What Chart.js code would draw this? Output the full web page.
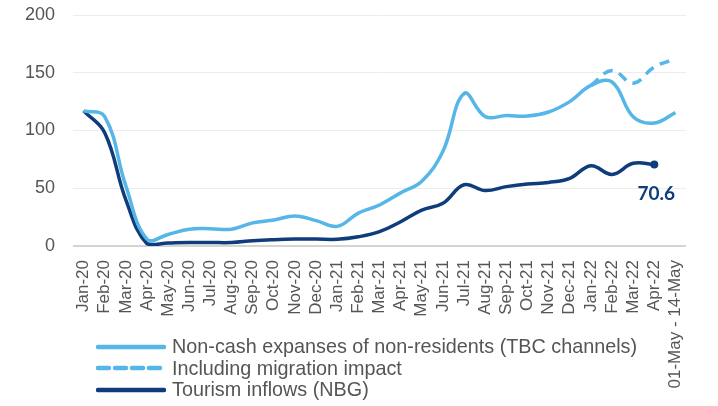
<!DOCTYPE html>
<html>
<head>
<meta charset="utf-8">
<script src="https://cdn.jsdelivr.net/npm/chart.js@4.4.1/dist/chart.umd.min.js"></script>
<style>
    body { margin: 0; background: #fff; }
    #wrap { position: relative; width: 718px; height: 406px; }
    #legend {
        position: absolute; left: 96px; top: 336px;
        font-family: "Liberation Sans", Arial, sans-serif; font-size: 19.8px; color: #555;
    }
    .legend-row { display: flex; align-items: center; height: 21.5px; white-space: nowrap; }
    .legend-row svg { margin-right: 6px; }
</style>
</head>
<body>
<div id="wrap">
    <canvas id="chart" width="718" height="406"></canvas>
    <div id="legend"></div>
</div>
<script>
const categories = ['Jan-20', 'Feb-20', 'Mar-20', 'Apr-20', 'May-20', 'Jun-20', 'Jul-20', 'Aug-20', 'Sep-20', 'Oct-20', 'Nov-20', 'Dec-20',
    'Jan-21', 'Feb-21', 'Mar-21', 'Apr-21', 'May-21', 'Jun-21', 'Jul-21', 'Aug-21', 'Sep-21', 'Oct-21', 'Nov-21', 'Dec-21',
    'Jan-22', 'Feb-22', 'Mar-22', 'Apr-22', '01-May - 14-May'];

const tbcValues = [117, 112, 52, 6, 10, 14.5, 15, 14.5, 20, 22.5, 26, 22,
    17, 28.5, 35.5, 46, 56, 82, 132, 112, 113, 112.5, 116, 125,
    139, 142, 112, 106.5, 115.5];

const migrationValues = [null, null, null, null, null, null, null, null, null, null, null, null,
    null, null, null, null, null, null, null, null, null, null, null, null,
    139, 152, 141, 155, 162];

const nbgValues = [117, 98, 40, 2, 2.5, 3, 3, 3, 4.6, 5.5, 6, 6,
    5.8, 8, 12.4, 21, 31, 37, 53, 48, 51.4, 53.7, 55, 58.6,
    69.5, 62, 71.6, 70.6, null];

const yTicks = [0, 50, 100, 150, 200];

const lightBlue = '#55b6e7';
const darkBlue = '#0f3d7b';
const lastNbg = 27;

const endLabel = {
    id: 'endLabel',
    afterDatasetsDraw(chart) {
        const pt = chart.getDatasetMeta(2).data[lastNbg];
        const ctx = chart.ctx;
        ctx.save();
        ctx.font = 'bold 19px Lato, "Liberation Sans", sans-serif';
        ctx.fillStyle = darkBlue;
        ctx.textAlign = 'center';
        ctx.textBaseline = 'middle';
        ctx.fillText(nbgValues[lastNbg].toFixed(1), pt.x + 2, pt.y + 29);
        ctx.restore();
    }
};

const chart = new Chart(document.getElementById('chart'), {
    type: 'line',
    data: {
        labels: categories,
        datasets: [
            {
                label: 'Non-cash expanses of non-residents (TBC channels)',
                data: tbcValues,
                borderColor: lightBlue,
                borderWidth: 3.5,
                pointRadius: 0,
                tension: 0.4
            },
            {
                label: 'Including migration impact',
                data: migrationValues,
                borderColor: lightBlue,
                borderWidth: 3.5,
                borderDash: [10, 7],
                pointRadius: 0,
                tension: 0.4
            },
            {
                label: 'Tourism inflows (NBG)',
                data: nbgValues,
                borderColor: darkBlue,
                backgroundColor: darkBlue,
                borderWidth: 3.5,
                pointBorderWidth: 0,
                pointRadius: ctx => ctx.dataIndex === lastNbg ? 4 : 0,
                tension: 0.4
            }
        ]
    },
    options: {
        responsive: false,
        animation: false,
        layout: { padding: { top: 15, right: 32, left: 0, bottom: 0 } },
        plugins: { legend: { display: false }, tooltip: { enabled: false } },
        scales: {
            x: {
                offset: true,
                grid: { display: false },
                border: { display: false },
                afterFit: s => { s.height = 160; s.paddingTop = 0; },
                ticks: {
                    minRotation: 90, maxRotation: 90, autoSkip: false, padding: 6,
                    color: '#555',
                    font: { family: '"Liberation Sans", Arial, sans-serif', size: 17 }
                }
            },
            y: {
                min: 0, max: 200,
                afterFit: s => { s.width = 73; s.paddingTop = 0; s.paddingBottom = 0; },
                afterBuildTicks: s => { s.ticks = yTicks.map(v => ({ value: v })); },
                border: { display: false },
                grid: {
                    drawTicks: false,
                    color: ctx => ctx.tick.value === 0 ? '#d4d4d4' : '#ededed',
                    lineWidth: ctx => ctx.tick.value === 0 ? 2 : 1
                },
                ticks: {
                    padding: 18,
                    color: '#555',
                    font: { family: '"Liberation Sans", Arial, sans-serif', size: 18 }
                }
            }
        }
    },
    plugins: [endLabel]
});

// legend built from the datasets
const legend = document.getElementById('legend');
chart.data.datasets.forEach(ds => {
    const row = document.createElement('div');
    row.className = 'legend-row';
    const dash = ds.borderDash ? `stroke-dasharray="11 6"` : '';
    row.innerHTML = `<svg width="70" height="8"><line x1="2" y1="4" x2="68" y2="4" stroke="${ds.borderColor}" stroke-width="4.5" stroke-linecap="round" ${dash}/></svg><span>${ds.label}</span>`;
    legend.appendChild(row);
});
</script>
</body>
</html>
